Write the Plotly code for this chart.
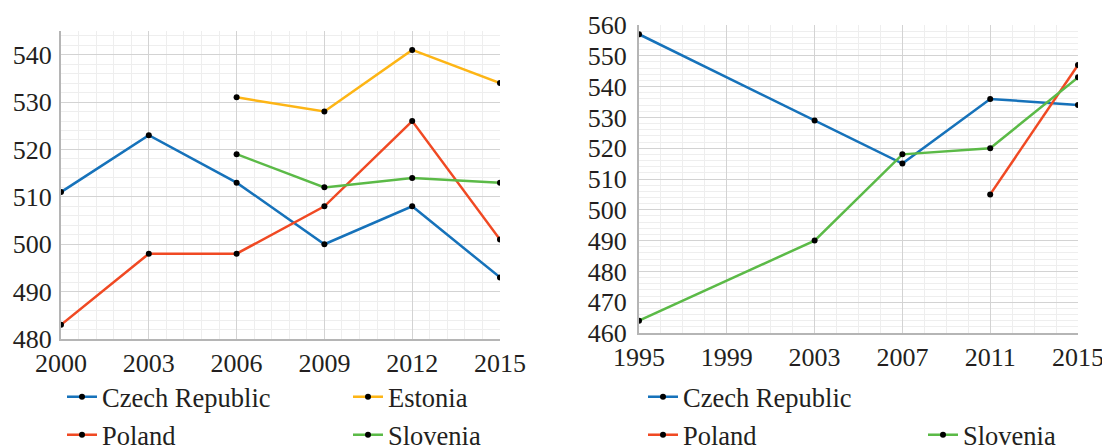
import plotly.graph_objects as go

# ---- Left chart data ----
years_left = [2000, 2003, 2006, 2009, 2012, 2015]
czech_left = [511, 523, 513, 500, 508, 493]
estonia_left = [None, None, 531, 528, 541, 534]
poland_left = [483, 498, 498, 508, 526, 501]
slovenia_left = [None, None, 519, 512, 514, 513]

# ---- Right chart data ----
years_right = [1995, 2003, 2007, 2011, 2015]
czech_right = [557, 529, 515, 536, 534]
poland_right = [None, None, None, 505, 547]
slovenia_right = [464, 490, 518, 520, 543]

left_xticks = [2000, 2003, 2006, 2009, 2012, 2015]
left_yticks = [480, 490, 500, 510, 520, 530, 540]
right_xticks = [1995, 1999, 2003, 2007, 2011, 2015]
right_yticks = [460, 470, 480, 490, 500, 510, 520, 530, 540, 550, 560]

BLUE = "#1672BA"
ORANGE = "#FDB515"
RED = "#F04923"
GREEN = "#5BBA47"
FONT = "Liberation Serif"
TXT = "#231F20"

fig = go.Figure()

def add(x, y, name, color, xa, ya, legend):
    fig.add_trace(go.Scatter(
        x=x, y=y, name=name, mode="lines+markers",
        line=dict(color=color, width=2.5),
        marker=dict(color="black", size=6),
        xaxis=xa, yaxis=ya, legend=legend, connectgaps=False,
        showlegend=True,
    ))

add(years_left, czech_left, "Czech Republic", BLUE, "x", "y", "legend")
add(years_left, estonia_left, "Estonia", ORANGE, "x", "y", "legend2")
add(years_left, poland_left, "Poland", RED, "x", "y", "legend3")
add(years_left, slovenia_left, "Slovenia", GREEN, "x", "y", "legend4")

add(years_right, czech_right, "Czech Republic", BLUE, "x2", "y2", "legend5")
add(years_right, poland_right, "Poland", RED, "x2", "y2", "legend6")
add(years_right, slovenia_right, "Slovenia", GREEN, "x2", "y2", "legend7")

W, H = 1102, 448

def fx(px):
    return px / W

def fy(py):
    return 1 - py / H

common_axis = dict(
    showgrid=True, gridcolor="#D3D3D3", gridwidth=1,
    showline=True, linecolor="#B5B5B5", linewidth=2,
    zeroline=False, ticks="", automargin=False,
    tickfont=dict(family=FONT, size=26, color=TXT),
    ticklabeloverflow="allow",
)

minor_style = dict(showgrid=True, gridcolor="#EEEEEE", gridwidth=1)

fig.update_layout(
    width=W, height=H,
    margin=dict(l=0, r=0, t=0, b=0, autoexpand=False),
    paper_bgcolor="white", plot_bgcolor="white",
    font=dict(family=FONT, size=26, color=TXT),
    xaxis=dict(common_axis, domain=[fx(61), fx(500)], range=[2000, 2015],
               tickvals=left_xticks, anchor="y",
               minor=dict(minor_style, dtick=0.6, tick0=2000)),
    yaxis=dict(common_axis, domain=[fy(339), fy(31)], range=[480, 545],
               tickvals=left_yticks, anchor="x", ticklabelstandoff=2,
               minor=dict(minor_style, dtick=2, tick0=480)),
    xaxis2=dict(common_axis, domain=[fx(639), fx(1078)], range=[1995, 2015],
                tickvals=right_xticks, anchor="y2",
                minor=dict(minor_style, dtick=1, tick0=1995)),
    yaxis2=dict(common_axis, domain=[fy(333), fy(25)], range=[460, 560],
                tickvals=right_yticks, anchor="x2", ticklabelstandoff=5,
                minor=dict(minor_style, dtick=2, tick0=460)),
)

leg_common = dict(font=dict(family=FONT, size=26.5, color=TXT),
                  bgcolor="rgba(0,0,0,0)", xanchor="left", yanchor="middle",
                  orientation="v")
positions = {
    "legend": (62, 397),
    "legend2": (348, 397),
    "legend3": (62, 435),
    "legend4": (348, 435),
    "legend5": (643, 397),
    "legend6": (643, 435),
    "legend7": (923, 435),
}
for k, (px, py) in positions.items():
    fig.update_layout({k: dict(leg_common, x=fx(px), y=fy(py))})

fig.write_html(
    "out.html",
    config={"displayModeBar": False},
    post_script="document.body.style.margin='0';document.body.style.overflow='hidden';",
)
